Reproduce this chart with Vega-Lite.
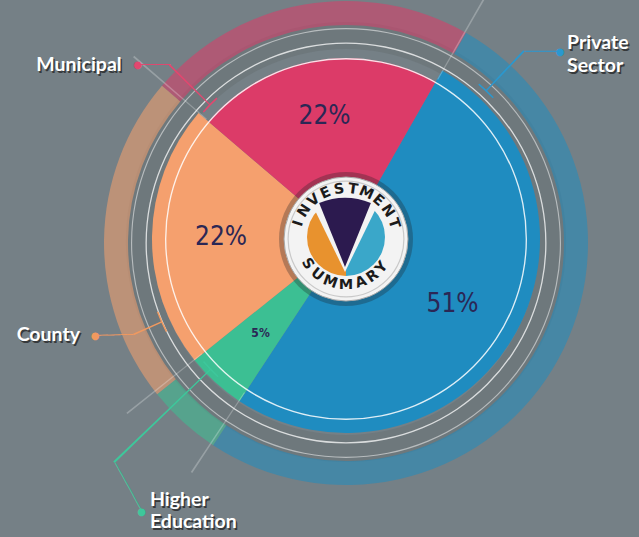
{
  "$schema": "https://vega.github.io/schema/vega-lite/v6.json",
  "width": 586,
  "height": 478,
  "autosize": {"type": "none"},
  "padding": {"left": 53, "top": 0, "right": 0, "bottom": 59},
  "background": "#758086",
  "config": {"view": {"stroke": null}},
  "datasets": {
    "slices": [
      {"sector": "Municipal", "pct": 22, "idx": 1, "label": "22%"},
      {"sector": "Private Sector", "pct": 51, "idx": 2, "label": "51%"},
      {"sector": "Higher Education", "pct": 5, "idx": 3, "label": "5%"},
      {"sector": "County", "pct": 22, "idx": 4, "label": "22%"}
    ],
    "one": [{"k": 1}],
    "top": [
      {"ch": "I", "a": -72}, {"ch": "N", "a": -56}, {"ch": "V", "a": -40}, {"ch": "E", "a": -24}, {"ch": "S", "a": -8},
      {"ch": "T", "a": 8}, {"ch": "M", "a": 24}, {"ch": "E", "a": 40}, {"ch": "N", "a": 56}, {"ch": "T", "a": 72}
    ],
    "bottom": [
      {"ch": "S", "a": 237}, {"ch": "U", "a": 219}, {"ch": "M", "a": 200}, {"ch": "M", "a": 180},
      {"ch": "A", "a": 161}, {"ch": "R", "a": 144.5}, {"ch": "Y", "a": 128.5}
    ]
  },
  "data": {"name": "slices"},
  "resolve": {"scale": {"theta": "independent", "radius": "independent", "angle": "independent"}},
  "layer": [
    {"data": {"name": "one"}, "mark": {"type": "arc", "theta": 0, "theta2": 6.2832, "radius": 220, "radius2": 193, "color": "#565a5d", "opacity": 0.22, "y": {"expr": "height/2 + 3"}}, "encoding": {}},
    {
      "transform": [{"stack": "pct", "groupby": [], "sort": [{"field": "idx", "order": "ascending"}], "as": ["s0", "s1"]}],
      "mark": {"type": "arc", "radius": 242, "radius2": 218, "opacity": 0.55, "y": {"expr": "height/2 + 4"}},
      "encoding": {
        "theta": {"field": "s0", "type": "quantitative", "scale": {"domain": [0, 100], "range": [-0.86394, 5.41925], "nice": false, "zero": false}},
        "theta2": {"field": "s1"},
        "color": {"field": "sector", "type": "nominal", "scale": {"domain": ["Municipal", "Private Sector", "Higher Education", "County"], "range": ["#dc3b68", "#1f8cc0", "#3cbf93", "#f5a06e"]}, "legend": null}
      }
    },
    {"data": {"name": "one"}, "mark": {"type": "arc", "theta": 0, "theta2": 6.2832, "radius": 200.5, "radius2": 199.2, "color": "#ffffff", "opacity": 0.75, "y": {"expr": "height/2 + 4"}}, "encoding": {}},
    {"data": {"name": "one"}, "mark": {"type": "arc", "theta": 0, "theta2": 6.2832, "radius": 215, "radius2": 213.8, "color": "#ffffff", "opacity": 0.5, "y": {"expr": "height/2 + 4"}}, "encoding": {}},
    {
      "transform": [
        {"stack": "pct", "groupby": [], "sort": [{"field": "idx", "order": "ascending"}], "as": ["s0", "s1"]},
        {"filter": "datum.sector != 'Municipal'"}
      ],
      "mark": {"type": "arc", "radius": 194},
      "encoding": {
        "theta": {"field": "s0", "type": "quantitative", "scale": {"domain": [0, 100], "range": [-0.86394, 5.41925], "nice": false, "zero": false}},
        "theta2": {"field": "s1"},
        "color": {"field": "sector", "type": "nominal", "scale": {"domain": ["Municipal", "Private Sector", "Higher Education", "County"], "range": ["#dc3b68", "#1f8cc0", "#3cbf93", "#f5a06e"]}, "legend": null}
      }
    },
    {
      "transform": [
        {"stack": "pct", "groupby": [], "sort": [{"field": "idx", "order": "ascending"}], "as": ["s0", "s1"]},
        {"filter": "datum.sector == 'Municipal'"}
      ],
      "mark": {"type": "arc", "radius": 181},
      "encoding": {
        "theta": {"field": "s0", "type": "quantitative", "scale": {"domain": [0, 100], "range": [-0.86394, 5.41925], "nice": false, "zero": false}},
        "theta2": {"field": "s1"},
        "color": {"field": "sector", "type": "nominal", "scale": {"domain": ["Municipal", "Private Sector", "Higher Education", "County"], "range": ["#dc3b68", "#1f8cc0", "#3cbf93", "#f5a06e"]}, "legend": null}
      }
    },
    {"data": {"name": "one"}, "mark": {"type": "arc", "theta": 0, "theta2": 6.2832, "radius": 181, "radius2": 179.6, "color": "#ffffff", "opacity": 0.85}, "encoding": {}},
    {
      "transform": [
        {"stack": "pct", "groupby": [], "sort": [{"field": "idx", "order": "ascending"}], "as": ["s0", "s1"]},
        {"calculate": "datum.s0 + 0.1", "as": "t2"}
      ],
      "mark": {"type": "arc", "radius": 280, "radius2": 184, "color": "#ffffff", "opacity": 0.25},
      "encoding": {
        "theta": {"field": "s0", "type": "quantitative", "scale": {"domain": [0, 100], "range": [-0.86394, 5.41925], "nice": false, "zero": false}},
        "theta2": {"field": "t2"}
      }
    },
    {
      "transform": [
        {"stack": "pct", "groupby": [], "sort": [{"field": "idx", "order": "ascending"}], "as": ["s0", "s1"]},
        {"calculate": "(datum.s0 + datum.s1) / 2", "as": "mid"},
        {"filter": "datum.pct >= 10"}
      ],
      "mark": {"type": "text", "radius": 125, "font": "DejaVu Sans Condensed, sans-serif", "fontSize": 26, "color": "#2b2755", "align": "center", "baseline": "middle"},
      "encoding": {
        "theta": {"field": "mid", "type": "quantitative", "scale": {"domain": [0, 100], "range": [-0.86394, 5.41925], "nice": false, "zero": false}},
        "text": {"field": "label"}
      }
    },
    {
      "transform": [
        {"stack": "pct", "groupby": [], "sort": [{"field": "idx", "order": "ascending"}], "as": ["s0", "s1"]},
        {"calculate": "(datum.s0 + datum.s1) / 2", "as": "mid"},
        {"filter": "datum.pct < 10"}
      ],
      "mark": {"type": "text", "radius": 127, "font": "DejaVu Sans Condensed, sans-serif", "fontSize": 12, "fontWeight": "bold", "color": "#2b2755", "align": "center", "baseline": "middle"},
      "encoding": {
        "theta": {"field": "mid", "type": "quantitative", "scale": {"domain": [0, 100], "range": [-0.86394, 5.41925], "nice": false, "zero": false}},
        "text": {"field": "label"}
      }
    },
    {"data": {"name": "one"}, "mark": {"type": "arc", "theta": 0, "theta2": 6.2832, "radius": 67, "color": "#1e2224", "opacity": 0.3}, "encoding": {}},
    {"data": {"name": "one"}, "mark": {"type": "arc", "theta": 0, "theta2": 6.2832, "radius": 62, "color": "#f3f3f3", "stroke": "#a8a8a8", "strokeWidth": 1}, "encoding": {}},
    {"data": {"name": "one"}, "mark": {"type": "arc", "theta": 0, "theta2": 6.2832, "radius": 58.5, "radius2": 57.3, "color": "#c9c9c9"}, "encoding": {}},
    {"data": {"name": "one"}, "mark": {"type": "arc", "theta": 3.14159, "theta2": 6.28318, "radius": 39, "color": "#e8922e", "y": {"expr": "height/2 - 2"}}, "encoding": {}},
    {"data": {"name": "one"}, "mark": {"type": "arc", "theta": 0, "theta2": 3.14159, "radius": 39, "color": "#3aa7c9", "y": {"expr": "height/2 - 2"}}, "encoding": {}},
    {"data": {"name": "one"}, "mark": {"type": "arc", "theta": -0.4538, "theta2": 0.4538, "radius": 82, "color": "#f3f3f3", "x": {"expr": "width/2 - 1"}, "y": {"expr": "height/2 + 33"}}, "encoding": {}},
    {"data": {"name": "one"}, "mark": {"type": "arc", "theta": -0.3840, "theta2": 0.3840, "radius": 69, "color": "#2c1a4f", "x": {"expr": "width/2 - 1"}, "y": {"expr": "height/2 + 28"}}, "encoding": {}},
    {
      "data": {"name": "top"},
      "transform": [{"calculate": "datum.a", "as": "rot"}],
      "mark": {"type": "text", "radius": 48, "font": "DejaVu Sans", "fontWeight": "bold", "fontSize": 14.5, "color": "#1b1b1b", "dy": -2},
      "encoding": {
        "theta": {"field": "a", "type": "quantitative", "stack": null, "scale": {"domain": [0, 360], "range": [0, 6.28318], "nice": false, "zero": false}},
        "angle": {"field": "rot", "type": "quantitative", "scale": null},
        "text": {"field": "ch"}
      }
    },
    {
      "data": {"name": "bottom"},
      "transform": [{"calculate": "datum.a - 180", "as": "rot"}],
      "mark": {"type": "text", "radius": 48, "font": "DejaVu Sans", "fontWeight": "bold", "fontSize": 14.5, "color": "#1b1b1b", "dy": -2},
      "encoding": {
        "theta": {"field": "a", "type": "quantitative", "stack": null, "scale": {"domain": [0, 360], "range": [0, 6.28318], "nice": false, "zero": false}},
        "angle": {"field": "rot", "type": "quantitative", "scale": null},
        "text": {"field": "ch"}
      }
    },
    {"data": {"name": "one"}, "mark": {"type": "arc", "theta": -0.79588, "theta2": -0.78888, "radius": 248, "radius2": 191, "color": "#e2476f"}, "encoding": {}},
    {"data": {"name": "one"}, "mark": {"type": "arc", "theta": -0.84299, "theta2": -0.74177, "radius": 191.8, "radius2": 190.3, "color": "#e2476f"}, "encoding": {}},
    {"data": {"name": "one"}, "mark": {"type": "text", "text": "\u2500\u2500\u2500\u2500\u2500", "font": "DejaVu Sans", "fontSize": 11, "color": "#e2476f"}, "encoding": {"theta": {"value": -0.83584}, "radius": {"value": 259.5}}},
    {"data": {"name": "one"}, "mark": {"type": "text", "text": "\u25cf", "font": "DejaVu Sans", "fontSize": 10, "color": "#e2476f"}, "encoding": {"theta": {"value": -0.87493}, "radius": {"value": 271.4}}},
    {"data": {"name": "one"}, "mark": {"type": "arc", "theta": 0.75397, "theta2": 0.76097, "radius": 259, "radius2": 204, "color": "#2a98cf"}, "encoding": {}},
    {"data": {"name": "one"}, "mark": {"type": "arc", "theta": 0.70860, "theta2": 0.80634, "radius": 204.7, "radius2": 203.2, "color": "#2a98cf"}, "encoding": {}},
    {"data": {"name": "one"}, "mark": {"type": "text", "text": "\u2500\u2500\u2500\u2500\u2500", "font": "DejaVu Sans", "fontSize": 11.6, "color": "#2a98cf"}, "encoding": {"theta": {"value": 0.81018}, "radius": {"value": 271.3}}},
    {"data": {"name": "one"}, "mark": {"type": "text", "text": "\u25cf", "font": "DejaVu Sans", "fontSize": 10, "color": "#2a98cf"}, "encoding": {"theta": {"value": 0.85259}, "radius": {"value": 284.2}}},
    {"data": {"name": "one"}, "mark": {"type": "arc", "theta": 4.28664, "theta2": 4.29364, "radius": 233, "radius2": 202, "color": "#f0995f"}, "encoding": {}},
    {"data": {"name": "one"}, "mark": {"type": "arc", "theta": 4.23592, "theta2": 4.34412, "radius": 202.7, "radius2": 201.2, "color": "#f0995f"}, "encoding": {}},
    {"data": {"name": "one"}, "mark": {"type": "text", "text": "\u2500\u2500\u2500\u2500\u2500\u2500", "font": "DejaVu Sans", "fontSize": 10.5, "color": "#f0995f", "angle": -1.5}, "encoding": {"theta": {"value": 4.31811}, "radius": {"value": 251.3}}},
    {"data": {"name": "one"}, "mark": {"type": "text", "text": "\u25cf", "font": "DejaVu Sans", "fontSize": 10, "color": "#f0995f"}, "encoding": {"theta": {"value": 4.34355}, "radius": {"value": 269.1}}},
    {"data": {"name": "one"}, "mark": {"type": "arc", "theta": 3.94269, "theta2": 3.94969, "radius": 322, "radius2": 188, "color": "#3ec79b"}, "encoding": {}},
    {"data": {"name": "one"}, "mark": {"type": "arc", "theta": 3.89034, "theta2": 4.00200, "radius": 188.7, "radius2": 187.2, "color": "#3ec79b"}, "encoding": {}},
    {"data": {"name": "one"}, "mark": {"type": "text", "text": "\u2500\u2500\u2500\u2500\u2500\u2500\u2500\u2500\u2500", "font": "DejaVu Sans", "fontSize": 10.2, "color": "#3ec79b", "angle": 61.1}, "encoding": {"theta": {"value": 3.86102}, "radius": {"value": 330.4}}},
    {"data": {"name": "one"}, "mark": {"type": "text", "text": "\u25cf", "font": "DejaVu Sans", "fontSize": 10, "color": "#3ec79b"}, "encoding": {"theta": {"value": 3.78456}, "radius": {"value": 340.7}}},
    {
      "transform": [{"filter": "datum.sector == 'Municipal'"}],
      "mark": {"type": "text", "font": "Lato", "fontWeight": "bold", "fontSize": 19.5, "color": "#222222", "opacity": 0.75, "dx": 1.5, "dy": 2},
      "encoding": {"text": {"field": "sector"}, "theta": {"value": -0.99327}, "radius": {"value": 318.7}}
    },
    {
      "transform": [{"filter": "datum.sector == 'Municipal'"}],
      "mark": {"type": "text", "font": "Lato", "fontWeight": "bold", "fontSize": 19.5, "color": "#ffffff"},
      "encoding": {"text": {"field": "sector"}, "theta": {"value": -0.99327}, "radius": {"value": 318.7}}
    },
    {
      "transform": [{"filter": "datum.sector == 'County'"}],
      "mark": {"type": "text", "font": "Lato", "fontWeight": "bold", "fontSize": 19.5, "color": "#222222", "opacity": 0.75, "dx": 1.5, "dy": 2},
      "encoding": {"text": {"field": "sector"}, "theta": {"value": 4.40054}, "radius": {"value": 312.8}}
    },
    {
      "transform": [{"filter": "datum.sector == 'County'"}],
      "mark": {"type": "text", "font": "Lato", "fontWeight": "bold", "fontSize": 19.5, "color": "#ffffff"},
      "encoding": {"text": {"field": "sector"}, "theta": {"value": 4.40054}, "radius": {"value": 312.8}}
    },
    {
      "transform": [{"filter": "datum.sector == 'Private Sector'"}],
      "mark": {"type": "text", "font": "Lato", "fontWeight": "bold", "fontSize": 19.5, "color": "#222222", "opacity": 0.75, "dx": 1.5, "dy": -9.5, "align": "left", "lineBreak": " ", "lineHeight": 23},
      "encoding": {"text": {"field": "sector"}, "theta": {"value": 0.87650}, "radius": {"value": 287.6}}
    },
    {
      "transform": [{"filter": "datum.sector == 'Private Sector'"}],
      "mark": {"type": "text", "font": "Lato", "fontWeight": "bold", "fontSize": 19.5, "color": "#ffffff", "dy": -11.5, "align": "left", "lineBreak": " ", "lineHeight": 23},
      "encoding": {"text": {"field": "sector"}, "theta": {"value": 0.87650}, "radius": {"value": 287.6}}
    },
    {
      "transform": [{"filter": "datum.sector == 'Higher Education'"}],
      "mark": {"type": "text", "font": "Lato", "fontWeight": "bold", "fontSize": 19.5, "color": "#222222", "opacity": 0.75, "dx": 1.5, "dy": -9, "align": "left", "lineBreak": " ", "lineHeight": 22},
      "encoding": {"text": {"field": "sector"}, "theta": {"value": 3.76606}, "radius": {"value": 335.3}}
    },
    {
      "transform": [{"filter": "datum.sector == 'Higher Education'"}],
      "mark": {"type": "text", "font": "Lato", "fontWeight": "bold", "fontSize": 19.5, "color": "#ffffff", "dy": -11, "align": "left", "lineBreak": " ", "lineHeight": 22},
      "encoding": {"text": {"field": "sector"}, "theta": {"value": 3.76606}, "radius": {"value": 335.3}}
    }
  ]
}
